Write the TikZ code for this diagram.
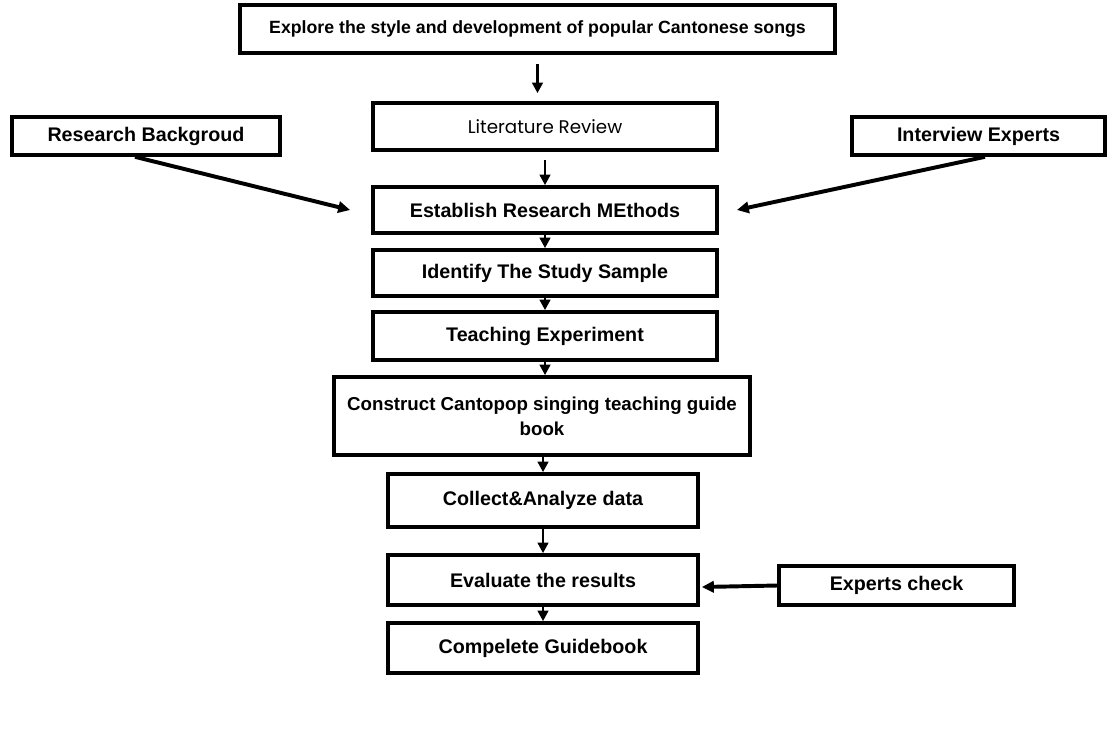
\documentclass[tikz,border=0pt]{standalone}
\usepackage{fontspec}
\setmainfont{Liberation Sans}
\newfontfamily\litfont{Poppins}
\usetikzlibrary{arrows.meta}

\begin{document}
\begin{tikzpicture}[x=0.025cm, y=-0.025cm,
    box/.style={draw, line width=2.6pt, inner sep=0pt, align=center,
        font=\fontsize{14}{18}\selectfont\bfseries},
    flow/.style={line width=2.1pt, -{Triangle[length=7.5pt, width=7.5pt]}},
    side/.style={line width=2.8pt, -{Triangle[length=8.5pt, width=8pt]}}]
    \useasboundingbox (0,0) rectangle (1115,731);
    \node[box, minimum width=14.875cm, minimum height=1.2cm,
        font=\fontsize{12.6}{15}\selectfont\bfseries] (explore) at (537.5,29)
        {Explore the style and development of popular Cantonese songs};
    \node[box, minimum width=8.6cm, minimum height=1.175cm,
        font=\fontsize{13}{16}\litfont] (review) at (545,126.5) {Literature Review};
    \node[box, minimum width=8.6cm, minimum height=1.15cm] (methods) at (545,210)
        {Establish Research MEthods};
    \node[box, minimum width=8.6cm, minimum height=1.15cm] (sample) at (545,273)
        {Identify The Study Sample};
    \node[box, minimum width=8.6cm, minimum height=1.2cm] (teach) at (545,336)
        {Teaching Experiment};
    \node[box, minimum width=10.4cm, minimum height=1.95cm,
        font=\fontsize{13.3}{18}\selectfont\bfseries] (guide) at (542,416)
        {Construct Cantopop singing teaching guide\\book};
    \node[box, minimum width=7.75cm, minimum height=1.325cm] (collect) at (543,500.5)
        {Collect\&Analyze data};
    \node[box, minimum width=7.75cm, minimum height=1.25cm] (evaluate) at (543,580)
        {Evaluate the results};
    \node[box, minimum width=7.75cm, minimum height=1.25cm] (done) at (543,648)
        {Compelete Guidebook};
    \node[box, minimum width=5.875cm, minimum height=0.975cm] (check) at (896.5,585.5)
        {Experts check};
    \node[box, minimum width=6.7cm, minimum height=0.95cm] (background) at (146,136)
        {Research Backgroud};
    \node[box, minimum width=6.325cm, minimum height=0.95cm] (interview) at (978.5,136)
        {Interview Experts};

    \draw[flow, shorten <=0.225cm, shorten >=0.2cm] (explore.south) -- (explore.south |- review.north);
    \draw[flow, shorten <=0.2cm] (review.south) -- (review.south |- methods.north);
    \draw[flow] (methods.south) -- (methods.south |- sample.north);
    \draw[flow] (sample.south) -- (sample.south |- teach.north);
    \draw[flow] (teach.south) -- (teach.south |- guide.north);
    \draw[flow] (collect.north |- guide.south) -- (collect.north);
    \draw[flow] (collect.south) -- (collect.south |- evaluate.north);
    \draw[flow] (evaluate.south) -- (evaluate.south |- done.north);

    \draw[side] ([xshift=-0.275cm]background.south) -- ([xshift=-0.525cm]methods.west);
    \draw[side] ([xshift=0.16cm]interview.south) -- ([xshift=0.45cm]methods.east);
    \draw[side] (check.west) -- ([xshift=0.05cm, yshift=-0.175cm]evaluate.east);
\end{tikzpicture}
\end{document}
